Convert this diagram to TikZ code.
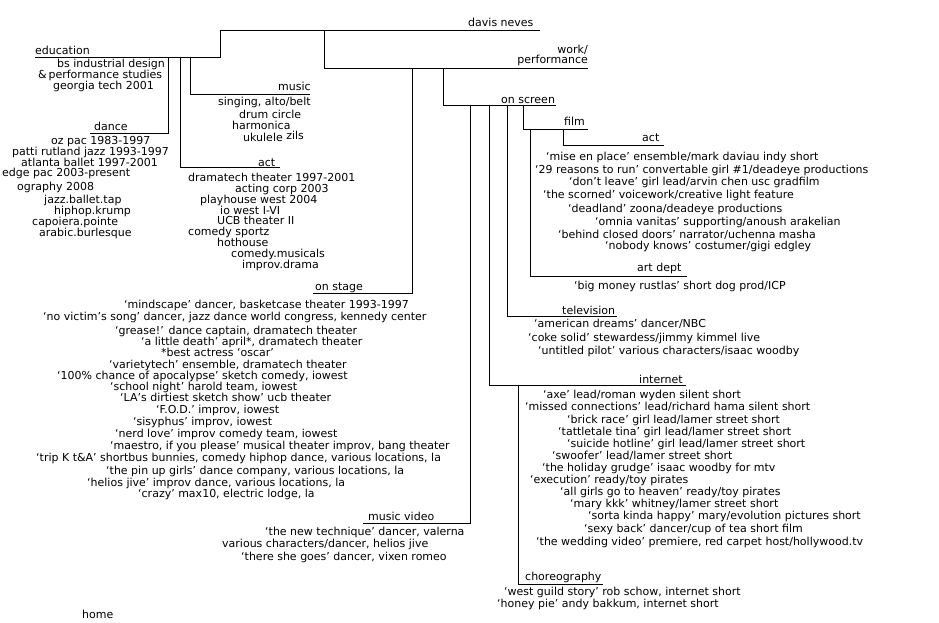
\documentclass[tikz,border=0pt]{standalone}
\usepackage{fontspec}
\setmainfont{DejaVu Sans}
\usetikzlibrary{positioning,calc}

\begin{document}
\begin{tikzpicture}[
  x=1pt, y=-1pt,
  branch/.style={draw=black, line width=0.9pt},
  lbl/.style={inner sep=0pt, font=\fontsize{11}{10}\selectfont},
  heading/.style={lbl, anchor=west, text height=8pt, text depth=2pt},
  entry/.style={lbl, anchor=west, text height=8pt, text depth=2pt}
]
  \useasboundingbox (0,0) rectangle (939,623);

  % Tree lines
  \coordinate (root-a) at (220,30);    \coordinate (root-b) at (540,30);
  \coordinate (edu-a) at (35,57);      \coordinate (edu-b) at (220,57);
  \coordinate (music-a) at (190,94);   \coordinate (music-b) at (310,94);
  \coordinate (dance-a) at (90,133);   \coordinate (dance-b) at (168,133);
  \coordinate (train-a) at (180,167);  \coordinate (train-b) at (280,167);
  \coordinate (work-a) at (324,68);    \coordinate (work-b) at (588,68);
  \coordinate (stage-a) at (313,293);  \coordinate (stage-b) at (412,293);
  \coordinate (screen-a) at (443,105); \coordinate (screen-b) at (556,105);
  \coordinate (film-a) at (523,129);   \coordinate (film-b) at (588,129);
  \coordinate (filmact-a) at (563,145); \coordinate (filmact-b) at (664,145);
  \coordinate (art-a) at (530,276);    \coordinate (art-b) at (687,276);
  \coordinate (tv-a) at (507,316);     \coordinate (tv-b) at (617,316);
  \coordinate (web-a) at (489,385);    \coordinate (web-b) at (686,385);
  \coordinate (choreo-a) at (518,584); \coordinate (choreo-b) at (603,584);
  \coordinate (video-a) at (363,523);  \coordinate (video-b) at (470,523);

  \draw[branch] (edu-a) -- (edu-b) -- (root-a) -- (root-b);
  \draw[branch] (edu-a -| music-a) -- (music-a) -- (music-b);
  \draw[branch] (edu-a -| dance-b) -- (dance-b) -- (dance-a);
  \draw[branch] (edu-a -| train-a) -- (train-a) -- (train-b);
  \draw[branch] (root-a -| work-a) -- (work-a) -- (work-b);
  \draw[branch] (work-a -| stage-b) -- (stage-b) -- (stage-a);
  \draw[branch] (work-a -| screen-a) -- (screen-a) -- (screen-b);
  \draw[branch] (screen-a -| video-b) -- (video-b) -- (video-a);
  \draw[branch] (screen-a -| web-a) -- (web-a) -- (web-b);
  \draw[branch] (screen-a -| tv-a) -- (tv-a) -- (tv-b);
  \draw[branch] (screen-a -| film-a) -- (film-a) -- (film-b);
  \draw[branch] (film-a -| filmact-a) -- (filmact-a) -- (filmact-b);
  \draw[branch] (film-a -| art-a) -- (art-a) -- (art-b);
  \draw[branch] (web-a -| choreo-a) -- (choreo-a) -- (choreo-b);

  % Headings
  \node[heading] (root) at (468,24) {davis neves};
  \node[lbl, anchor=south east, align=right] (work) at (588,66) {work/\\performance};
  \node[heading] (edu) at (35,52) {education};
  \node[heading] (music) at (278,88) {music};
  \node[heading] (dance) at (94,128) {dance};
  \node[heading] (train) at (258,163) {act};
  \node[heading] (stage) at (315,287) {on stage};
  \node[heading] (screen) at (501,100) {on screen};
  \node[heading] (film) at (564,123) {film};
  \node[heading] (filmact) at (642,139) {act};
  \node[heading] (art) at (637,268) {art dept};
  \node[heading] (tv) at (562,311) {television};
  \node[heading] (web) at (639,380) {internet};
  \node[heading] (choreo) at (525,577) {choreography};
  \node[heading] (video) at (368,517) {music video};
  \node[heading] (home) at (82,615) {home};

  % Education
  \node[entry] (edu1) at (57,65) {bs industrial design};
  \node[entry] (edu2) at (38,76) {\&\,performance studies};
  \node[entry] (edu3) at (53,87) {georgia tech 2001};

  % Music
  \node[entry] (music1) at (218,103) {singing, alto/belt};
  \node[entry] (music2) at (239,116) {drum circle};
  \node[entry] (music3) at (232,126) {harmonica};
  \node[entry] (music4) at (243,138) {ukulele \raisebox{1.5pt}{zils}};

  % Dance
  \node[entry] (dance1) at (51,141) {oz pac 1983-1997};
  \node[entry] (dance2) at (12,152) {patti rutland jazz 1993-1997};
  \node[entry] (dance3) at (21,163) {atlanta ballet 1997-2001};
  \node[entry] (dance4) at (2,173) {edge pac 2003-present};
  \node[entry] (dance5) at (17,187) {ography 2008};
  \node[entry] (dance6) at (44,200) {jazz.ballet.tap};
  \node[entry] (dance7) at (54,211) {hiphop.krump};
  \node[entry] (dance8) at (32,222) {capoiera.pointe};
  \node[entry] (dance9) at (39,233) {arabic.burlesque};

  % Acting training
  \node[entry] (train1) at (188,178) {dramatech theater 1997-2001};
  \node[entry] (train2) at (235,189) {acting corp 2003};
  \node[entry] (train3) at (200,200) {playhouse west 2004};
  \node[entry] (train4) at (220,211) {io west I-VI};
  \node[entry] (train5) at (217,221) {UCB theater II};
  \node[entry] (train6) at (188,232) {comedy sportz};
  \node[entry] (train7) at (217,243) {hothouse};
  \node[entry] (train8) at (231,254) {comedy.musicals};
  \node[entry] (train9) at (242,265) {improv.drama};

  % On stage
  \node[entry] (stage1) at (124,305) {‘mindscape’ dancer, basketcase theater 1993-1997};
  \node[entry] (stage2) at (43,317) {‘no victim’s song’ dancer, jazz dance world congress, kennedy center};
  \node[entry] (stage3) at (115,331) {‘grease!’ dance captain, dramatech theater};
  \node[entry] (stage4) at (141,342) {‘a little death’ april*, dramatech theater};
  \node[entry] (stage5) at (161,353) {*best actress ‘oscar’};
  \node[entry] (stage6) at (109,365) {‘varietytech’ ensemble, dramatech theater};
  \node[entry] (stage7) at (57,376) {‘100\% chance of apocalypse’ sketch comedy, iowest};
  \node[entry] (stage8) at (110,387) {‘school night’ harold team, iowest};
  \node[entry] (stage9) at (120,398) {‘LA’s dirtiest sketch show’ ucb theater};
  \node[entry] (stage10) at (156,410) {‘F.O.D.’ improv, iowest};
  \node[entry] (stage11) at (133,422) {‘sisyphus’ improv, iowest};
  \node[entry] (stage12) at (115,434) {‘nerd love’ improv comedy team, iowest};
  \node[entry] (stage13) at (110,446) {‘maestro, if you please’ musical theater improv, bang theater};
  \node[entry] (stage14) at (36,458) {‘trip K t\&A’ shortbus bunnies, comedy hiphop dance, various locations, la};
  \node[entry] (stage15) at (106,471) {‘the pin up girls’ dance company, various locations, la};
  \node[entry] (stage16) at (87,483) {‘helios jive’ improv dance, various locations, la};
  \node[entry] (stage17) at (138,494) {‘crazy’ max10, electric lodge, la};

  % Music video
  \node[entry] (video1) at (265,532) {‘the new technique’ dancer, valerna};
  \node[entry] (video2) at (222,544) {various characters/dancer, helios jive};
  \node[entry] (video3) at (241,557) {‘there she goes’ dancer, vixen romeo};

  % Film
  \node[entry] (film1) at (546,157) {‘mise en place’ ensemble/mark daviau indy short};
  \node[entry] (film2) at (535,170) {‘29 reasons to run’ convertable girl \#1/deadeye productions};
  \node[entry] (film3) at (569,182) {‘don’t leave’ girl lead/arvin chen usc gradfilm};
  \node[entry] (film4) at (543,195) {‘the scorned’ voicework/creative light feature};
  \node[entry] (film5) at (568,209) {‘deadland’ zoona/deadeye productions};
  \node[entry] (film6) at (595,222) {‘omnia vanitas’ supporting/anoush arakelian};
  \node[entry] (film7) at (558,235) {‘behind closed doors’ narrator/uchenna masha};
  \node[entry] (film8) at (605,246) {‘nobody knows’ costumer/gigi edgley};
  \node[entry] (art1) at (574,286) {‘big money rustlas’ short dog prod/ICP};

  % Television
  \node[entry] (tv1) at (534,324) {‘american dreams’ dancer/NBC};
  \node[entry] (tv2) at (528,338) {‘coke solid’ stewardess/jimmy kimmel live};
  \node[entry] (tv3) at (538,351) {‘untitled pilot’ various characters/isaac woodby};

  % Internet
  \node[entry] (web1) at (543,395) {‘axe’ lead/roman wyden silent short};
  \node[entry] (web2) at (525,407) {‘missed connections’ lead/richard hama silent short};
  \node[entry] (web3) at (567,420) {‘brick race’ girl lead/lamer street short};
  \node[entry] (web4) at (558,432) {‘tattletale tina’ girl lead/lamer street short};
  \node[entry] (web5) at (567,444) {‘suicide hotline’ girl lead/lamer street short};
  \node[entry] (web6) at (552,456) {‘swoofer’ lead/lamer street short};
  \node[entry] (web7) at (542,468) {‘the holiday grudge’ isaac woodby for mtv};
  \node[entry] (web8) at (530,480) {‘execution’ ready/toy pirates};
  \node[entry] (web9) at (560,492) {‘all girls go to heaven’ ready/toy pirates};
  \node[entry] (web10) at (570,504) {‘mary kkk’ whitney/lamer street short};
  \node[entry] (web11) at (588,516) {‘sorta kinda happy’ mary/evolution pictures short};
  \node[entry] (web12) at (584,529) {‘sexy back’ dancer/cup of tea short film};
  \node[entry] (web13) at (536,542) {‘the wedding video’ premiere, red carpet host/hollywood.tv};

  % Choreography
  \node[entry] (choreo1) at (504,592) {‘west guild story’ rob schow, internet short};
  \node[entry] (choreo2) at (497,604) {‘honey pie’ andy bakkum, internet short};

\end{tikzpicture}
\end{document}
